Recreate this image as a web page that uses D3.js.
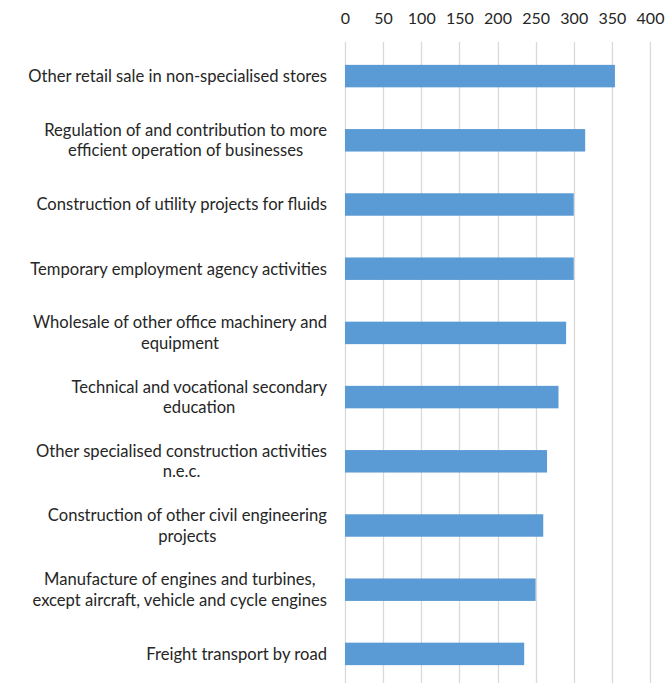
<!DOCTYPE html>
<html>
<head>
<meta charset="utf-8">
<script src="https://cdn.jsdelivr.net/npm/d3@7"></script>
<style>
  html, body { margin: 0; padding: 0; background: #fff; }
  text { font-family: Lato, "Open Sans", sans-serif; }
</style>
</head>
<body>
<svg id="chart" width="667" height="683"></svg>
<script>
const categories = [
  ["Other retail sale in non-specialised stores"],
  ["Regulation of and contribution to more", "efficient operation of businesses"],
  ["Construction of utility projects for fluids"],
  ["Temporary employment agency activities"],
  ["Wholesale of other office machinery and", "equipment"],
  ["Technical and vocational secondary", "education"],
  ["Other specialised construction activities", "n.e.c."],
  ["Construction of other civil engineering", "projects"],
  ["Manufacture of engines and turbines,", "except aircraft, vehicle and cycle engines"],
  ["Freight transport by road"]
];
const values = [354, 315, 300, 300, 290, 280, 265, 260, 250, 235];
const tickValues = [0, 50, 100, 150, 200, 250, 300, 350, 400];

const svg = d3.select("#chart");
const margin = { left: 345, right: 17, top: 44 };
const plotBottom = 686;

const x = d3.scaleLinear().domain([0, 400]).range([margin.left, 667 - margin.right]);
const y = d3.scaleBand().domain(d3.range(categories.length)).range([margin.top, plotBottom]).paddingInner(0.65).paddingOuter(0.325);

// gridlines
svg.append("g").selectAll("line").data(tickValues).join("line")
  .attr("x1", d => Math.round(x(d)) + 0.5).attr("x2", d => Math.round(x(d)) + 0.5)
  .attr("y1", 42).attr("y2", 683)
  .attr("stroke", "#d9d9d9").attr("stroke-width", 1.3);

// top axis labels
const axis = d3.axisTop(x).tickValues(tickValues).tickSize(0).tickPadding(0);
const ax = svg.append("g").attr("transform", "translate(0,24)").call(axis);
ax.select(".domain").remove();
ax.selectAll("text").attr("font-size", 16).attr("fill", "#262626")
  .style("font-family", "Lato, 'Open Sans', sans-serif");

// bars
svg.append("g").selectAll("rect").data(values).join("rect")
  .attr("x", x(0))
  .attr("y", (d, i) => y(i))
  .attr("width", d => x(d) - x(0))
  .attr("height", y.bandwidth())
  .attr("fill", "#5b9bd5");

// category labels: block right-aligned, lines centered within block
const lab = svg.append("g");
categories.forEach((lines, i) => {
  const cy = y(i) + y.bandwidth() / 2;
  const lh = 20.5;
  const g = lab.append("g");
  const texts = lines.map((t, k) => g.append("text")
    .attr("font-size", 16.6).attr("fill", "#262626")
    .attr("dy", "0.35em")
    .attr("y", cy + (k - (lines.length - 1) / 2) * lh)
    .text(t));
  const widths = texts.map(t => t.node().getComputedTextLength());
  const maxW = d3.max(widths);
  const right = 327;
  const center = right - maxW / 2;
  texts.forEach(t => t.attr("x", center).attr("text-anchor", "middle"));
});
</script>
</body>
</html>
